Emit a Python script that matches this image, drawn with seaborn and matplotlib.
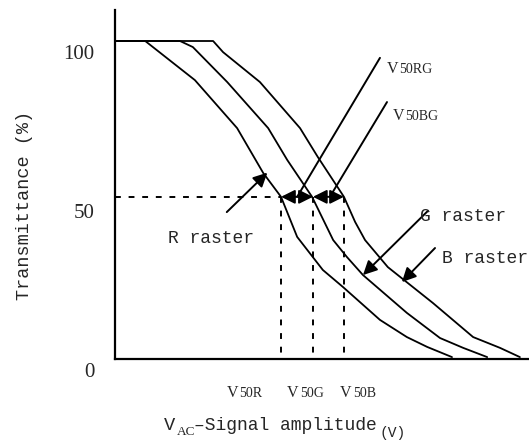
import matplotlib
matplotlib.use("Agg")
import matplotlib.pyplot as plt
import matplotlib.transforms as mtransforms
import seaborn as sns
import pandas as pd

# ---- data ----
R_x = [0, 0.73, 1.93, 2.95, 3.58, 4.01, 4.40, 5.02, 5.51, 6.40, 7.05, 7.54, 8.14]
R_y = [100, 100, 87.7, 72.6, 58.5, 51, 38.4, 28.0, 22.6, 12.3, 6.9, 3.8, 0.6]
G_x = [0, 1.57, 1.88, 2.71, 3.70, 4.16, 4.76, 5.15, 5.27, 5.60, 5.99, 7.05, 7.85, 8.41, 8.99]
G_y = [100, 100, 98.1, 87.1, 72.6, 62.6, 51, 40.6, 37.4, 32.1, 26.4, 14.5, 6.6, 3.5, 0.6]
B_x = [0, 2.37, 2.61, 3.50, 4.47, 4.90, 5.53, 5.80, 6.04, 6.59, 7.68, 8.65, 9.30, 9.78]
B_y = [100, 100, 96.5, 87.1, 72.6, 63.5, 51, 43.1, 37.4, 28.9, 17.6, 6.9, 3.5, 0.6]

half_level = 51
V50 = {"R": 4.01, "G": 4.78, "B": 5.53}
y_ticks = [0, 50, 100]
y_tick_labels = ["0", "50", "100"]

df = pd.concat([
    pd.DataFrame({"V": R_x, "T": R_y, "raster": "R"}),
    pd.DataFrame({"V": G_x, "T": G_y, "raster": "G"}),
    pd.DataFrame({"V": B_x, "T": B_y, "raster": "B"}),
], ignore_index=True)

sns.set_style("white")
plt.rcParams["font.family"] = ["Liberation Mono", "DejaVu Sans"]

fig = plt.figure(figsize=(5.29, 4.45), dpi=100)
ax = fig.add_axes([115 / 529, 1 - 359 / 445, 1 - 115 / 529, (359 - 10) / 445])

sns.lineplot(data=df, x="V", y="T", hue="raster", palette=["black"] * 3,
             estimator=None, sort=False, legend=False, linewidth=1.3, ax=ax)

ax.set_xlim(0, 10)
ax.set_ylim(0, 109.75)
for s in ["top", "right"]:
    ax.spines[s].set_visible(False)
for s in ["left", "bottom"]:
    ax.spines[s].set_color("black")
    ax.spines[s].set_linewidth(1.6)
ax.set_xticks([])
ax.set_yticks(y_ticks)
ax.set_yticklabels(y_tick_labels, family=["Liberation Serif", "DejaVu Serif"], fontsize=15)
ax.tick_params(axis="y", length=0, pad=15)
off = mtransforms.ScaledTranslation(0, -0.11, fig.dpi_scale_trans)
for lab in ax.get_yticklabels():
    lab.set_transform(lab.get_transform() + off)
ax.set_xlabel("")
ax.set_ylabel("")

# dashed reference lines
dash = (0, (3, 4))
ax.plot([0, V50["R"]], [half_level, half_level], color="black", lw=1.4, ls=dash)
for k in ["R", "G", "B"]:
    ax.plot([V50[k], V50[k]], [half_level, 1.3], color="black", lw=1.4, ls=dash)

# double arrows
ap2 = dict(arrowstyle="<|-|>,head_length=0.6,head_width=0.3", color="black",
           lw=1.4, mutation_scale=14, shrinkA=0, shrinkB=0)
ax.annotate("", xy=(V50["R"], half_level), xytext=(V50["G"], half_level), arrowprops=ap2)
ax.annotate("", xy=(V50["G"], half_level), xytext=(V50["B"], half_level), arrowprops=ap2)

# pointer lines for V50RG / V50BG
ax.plot([6.40, 4.40], [94.7, half_level], color="black", lw=1.4)
ax.plot([6.57, 5.19], [80.8, half_level], color="black", lw=1.4)

# raster arrows
ap = dict(arrowstyle="-|>,head_length=0.6,head_width=0.3", color="black",
          lw=1.4, mutation_scale=14, shrinkA=0, shrinkB=0)
ax.annotate("", xy=(3.68, 58.6), xytext=(2.70, 46.2), arrowprops=ap)
ax.annotate("", xy=(5.99, 26.4), xytext=(7.56, 46.6), arrowprops=ap)
ax.annotate("", xy=(6.93, 24.2), xytext=(7.73, 34.9), arrowprops=ap)

# raster labels
ax.text(1.28, 36.5, "R raster", fontsize=13, va="baseline", ha="left")
ax.text(7.37, 43.4, "G raster", fontsize=13, va="baseline", ha="left")
ax.text(7.90, 30.2, "B raster", fontsize=13, va="baseline", ha="left")

serif = ["Liberation Serif", "DejaVu Serif"]
def vlabel(xv, xs, yb, sub):
    ax.text(xv, yb, "V", family=serif, fontsize=11.5, va="baseline", ha="left", clip_on=False)
    ax.text(xs, yb, sub, family=serif, fontsize=10, va="baseline", ha="left", clip_on=False)

vlabel(6.57, 6.87, 89.9, "50RG")
vlabel(6.71, 7.01, 75.2, "50BG")
vlabel(2.69, 3.00, -11.95, "50R")
vlabel(4.16, 4.47, -11.95, "50G")
vlabel(5.44, 5.75, -11.95, "50B")

# axis titles
fig.text(164 / 529, 1 - 430 / 445, "V", fontsize=13.5, va="baseline", ha="left")
fig.text(176.5 / 529, 1 - 435 / 445, "AC", family=serif, fontsize=9.5, va="baseline", ha="left")
fig.text(194 / 529, 1 - 430 / 445, "–Signal amplitude", fontsize=13, va="baseline", ha="left")
fig.text(379 / 529, 1 - 437 / 445, "(V)", fontsize=10.5, va="baseline", ha="left")
fig.text(25 / 529, 1 - 205 / 445, "Transmittance (%)", fontsize=13.3, rotation=90,
         va="center", ha="center")

fig.savefig("out.png", dpi=100)
